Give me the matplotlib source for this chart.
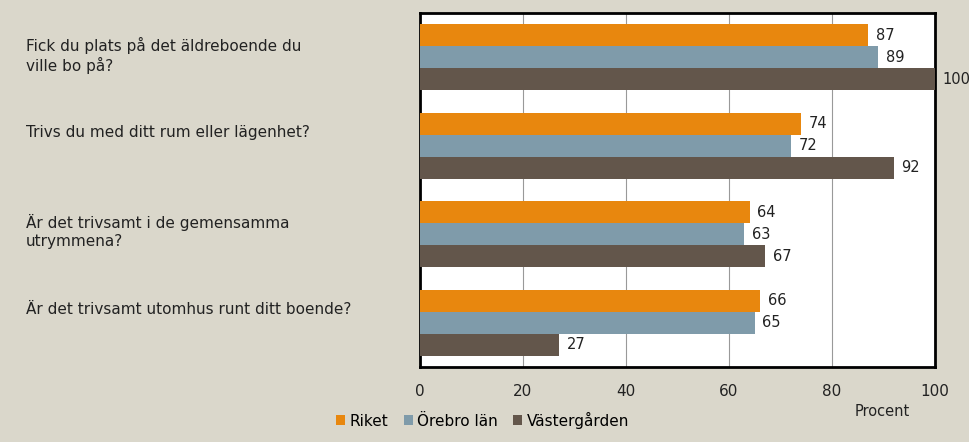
#!/usr/bin/env python3

import matplotlib
matplotlib.use("Agg")
import matplotlib.pyplot as plt
import numpy as np

# Data
questions = ["Fick du plats på det äldreboende du\nville bo på?",
             "Trivs du med ditt rum eller lägenhet?",
             "Är det trivsamt i de gemensamma\nutrymmena?",
             "Är det trivsamt utomhus runt ditt boende?"]
series = ["Riket", "Örebro län", "Västergården"]
riket = [87, 74, 64, 66]
orebro = [89, 72, 63, 65]
vastergarden = [100, 92, 67, 27]
ticks = [0, 20, 40, 60, 80, 100]

colors = ["#E8870E", "#7F9BAA", "#63564B"]
bg = "#DAD7CB"

plt.rcParams["font.family"] = ["DejaVu Sans"]

fig = plt.figure(figsize=(9.7, 4.42), dpi=100, facecolor=bg)
ax = fig.add_axes([420 / 970, 1 - 367 / 442, 515 / 970, 354 / 442])
ax.set_facecolor("white")

h = 0.25
y = np.arange(len(questions))
for i, (name, vals) in enumerate(zip(series, [riket, orebro, vastergarden])):
    pos = y - h + i * h
    ax.barh(pos, vals, height=h, color=colors[i], label=name, zorder=3)
    for p, v in zip(pos, vals):
        ax.text(v + 1.5, p, str(v), va="center", ha="left", fontsize=10.5,
                color="#222222", zorder=4)

ax.set_xlim(0, 100)
ax.set_ylim(len(questions) - 0.5, -0.5)
ax.set_xticks(ticks)
ax.set_yticks([])
ax.grid(axis="x", color="#999999", linewidth=0.8, zorder=0)
for s in ax.spines.values():
    s.set_linewidth(2)
    s.set_color("black")
ax.tick_params(axis="x", length=0, pad=12, labelsize=11, colors="#222222")

# question labels, left aligned in the figure margin
for yi, q in zip(y, questions):
    ax.text(-76.5, yi - 0.23, q, ha="left", va="top", fontsize=11,
            color="#222222", transform=ax.transData, clip_on=False,
            linespacing=1.25)

fig.text(882 / 970, 1 - 412 / 442, "Procent", ha="center", va="center",
         fontsize=10.5, color="#222222")

fig.legend(loc="center left", bbox_to_anchor=(322 / 970, 1 - 420 / 442),
           ncol=3, frameon=False, fontsize=11, handlelength=0.6,
           handleheight=0.6, handletextpad=0.3, columnspacing=1.0)

fig.savefig("out.png", dpi=100, facecolor=bg)
plt.close()
